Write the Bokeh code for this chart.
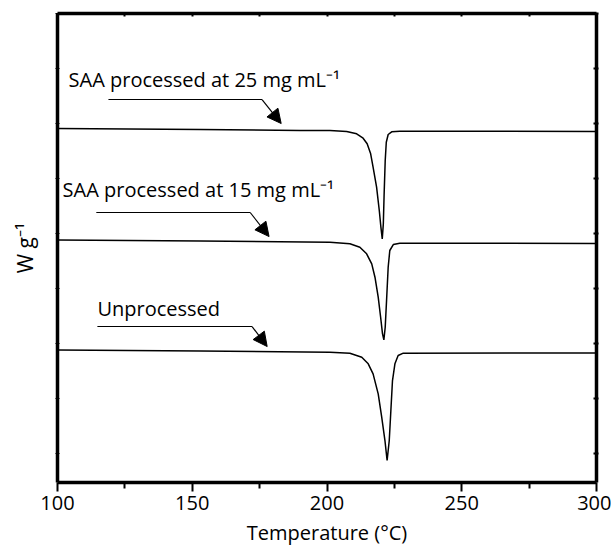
from bokeh.plotting import figure
from bokeh.models import LinearAxis, FixedTicker, Range1d, Arrow, NormalHead, Label
from bokeh.embed import file_html
from bokeh.resources import INLINE

# ---- data ----
temp_25 = [100.0, 153.0, 190.0, 201.1, 207.3, 211.0, 213.4, 214.9, 216.2, 217.1, 218.4,
           219.4, 220.0, 220.5, 220.9, 221.2, 221.6, 222.0, 222.7, 224.0, 227.0, 300.0]
heat_25 = [5.909, 5.891, 5.873, 5.873, 5.855, 5.813, 5.733, 5.631, 5.449, 5.206, 4.842,
           4.418, 4.115, 3.903, 4.176, 4.721, 5.327, 5.660, 5.800, 5.849, 5.860, 5.855]

temp_15 = [100.0, 153.0, 201.1, 208.5, 212.2, 214.7, 216.6, 217.8, 219.0, 219.9, 220.6,
           221.1, 221.6, 222.1, 222.7, 223.3, 224.6, 227.0, 300.0]
heat_15 = [3.882, 3.864, 3.842, 3.813, 3.751, 3.631, 3.449, 3.205, 2.842, 2.478, 2.176,
           2.067, 2.296, 2.782, 3.387, 3.691, 3.800, 3.824, 3.818]

temp_un = [100.0, 153.0, 201.1, 208.5, 212.9, 215.3, 217.1, 219.0, 220.3, 221.5, 222.3,
           223.1, 223.7, 224.3, 225.2, 226.4, 228.3, 300.0]
heat_un = [1.882, 1.864, 1.842, 1.824, 1.751, 1.631, 1.449, 1.085, 0.660, 0.236, -0.127,
           0.236, 0.782, 1.327, 1.631, 1.782, 1.824, 1.827]

x_ticks = [100, 150, 200, 250, 300]
x_minor_ticks = [125, 175, 225, 275]
x_top_ticks = [100, 125, 150, 175, 200, 225, 250, 275, 300]
y_ticks = [0, 1, 2, 3, 4, 5, 6, 7, 8]

labels = ["SAA processed at 25 mg mL\u207b\u00b9",
          "SAA processed at 15 mg mL\u207b\u00b9",
          "Unprocessed"]
label_x = [104.1, 101.9, 114.8]
label_y = [6.80, 4.80, 2.636]

arrow_x_start = [118.9, 114.4, 114.8]
arrow_x_knee = [175.9, 171.5, 172.2]
arrow_y_knee = [6.436, 4.382, 2.309]
arrow_x_tip = [183.0, 178.5, 177.8]
arrow_y_tip = [6.00, 3.945, 1.945]

FONT = "Open Sans"
FRAME_W = 3.5

p = figure(frame_width=539, frame_height=469,
           x_range=Range1d(100, 300), y_range=Range1d(-0.527, 8),
           output_backend="svg", toolbar_location=None,
           min_border_left=57, min_border_right=15, min_border_top=13, min_border_bottom=10,
           x_axis_label="Temperature (\u00b0C)", y_axis_label="W g\u207b\u00b9")
p.grid.visible = False
p.outline_line_color = None
p.background_fill_color = "white"

# bottom axis
xa = p.xaxis[0]
xa.ticker = FixedTicker(ticks=x_ticks, minor_ticks=x_minor_ticks)
xa.axis_line_width = FRAME_W
xa.axis_line_color = "black"
xa.major_tick_line_color = "black"
xa.minor_tick_line_color = "black"
xa.major_tick_in = 0
xa.major_tick_out = 9
xa.minor_tick_in = 0
xa.minor_tick_out = 6
xa.major_tick_line_width = 2
xa.minor_tick_line_width = 2
xa.major_label_text_font = FONT
xa.major_label_text_font_size = "20px"
xa.major_label_text_color = "black"
xa.major_label_standoff = 4
xa.axis_label_text_font = FONT
xa.axis_label_text_font_size = "20px"
xa.axis_label_text_font_style = "normal"
xa.axis_label_text_color = "black"
xa.axis_label_standoff = 6

# left axis
ya = p.yaxis[0]
ya.ticker = FixedTicker(ticks=y_ticks)
ya.major_label_overrides = {t: "" for t in y_ticks}
ya.axis_line_width = FRAME_W
ya.axis_line_color = "black"
ya.major_tick_line_color = "black"
ya.major_tick_in = 2
ya.major_tick_out = 2
ya.minor_tick_line_color = None
ya.major_label_text_font_size = "1px"
ya.major_label_standoff = 0
ya.axis_label_text_font = FONT
ya.axis_label_text_font_size = "21px"
ya.axis_label_text_font_style = "normal"
ya.axis_label_text_color = "black"
ya.axis_label_standoff = 17

# top axis
top = LinearAxis(ticker=FixedTicker(ticks=x_top_ticks), axis_line_width=FRAME_W, axis_line_color="black",
                 major_tick_in=3, major_tick_out=0, major_tick_line_width=2,
                 major_tick_line_color="black",
                 minor_tick_line_color=None, major_label_text_font_size="1px",
                 major_label_overrides={t: "" for t in x_top_ticks},
                 major_label_standoff=0)
p.add_layout(top, "above")

# right axis
right = LinearAxis(ticker=FixedTicker(ticks=y_ticks), axis_line_width=FRAME_W, axis_line_color="black",
                   major_tick_in=3, major_tick_out=2, major_tick_line_width=2,
                   major_tick_line_color="black",
                   minor_tick_line_color=None, major_label_text_font_size="1px",
                   major_label_overrides={t: "" for t in y_ticks},
                   major_label_standoff=0)
p.add_layout(right, "right")

# curves
for tx, hy in [(temp_25, heat_25), (temp_15, heat_15), (temp_un, heat_un)]:
    p.line(tx, hy, line_color="black", line_width=1.5)

# annotations
for i in range(3):
    p.add_layout(Label(x=label_x[i], y=label_y[i], text=labels[i], text_font=FONT,
                       text_font_size="20px", text_baseline="middle", text_color="black"))
    p.line([arrow_x_start[i], arrow_x_knee[i]], [arrow_y_knee[i], arrow_y_knee[i]],
           line_color="black", line_width=1.2)
    p.add_layout(Arrow(end=NormalHead(size=14, fill_color="black", line_color="black"),
                       x_start=arrow_x_knee[i], y_start=arrow_y_knee[i],
                       x_end=arrow_x_tip[i], y_end=arrow_y_tip[i],
                       line_color="black", line_width=1.2))

open("out.html", "w").write(file_html(p, INLINE))
